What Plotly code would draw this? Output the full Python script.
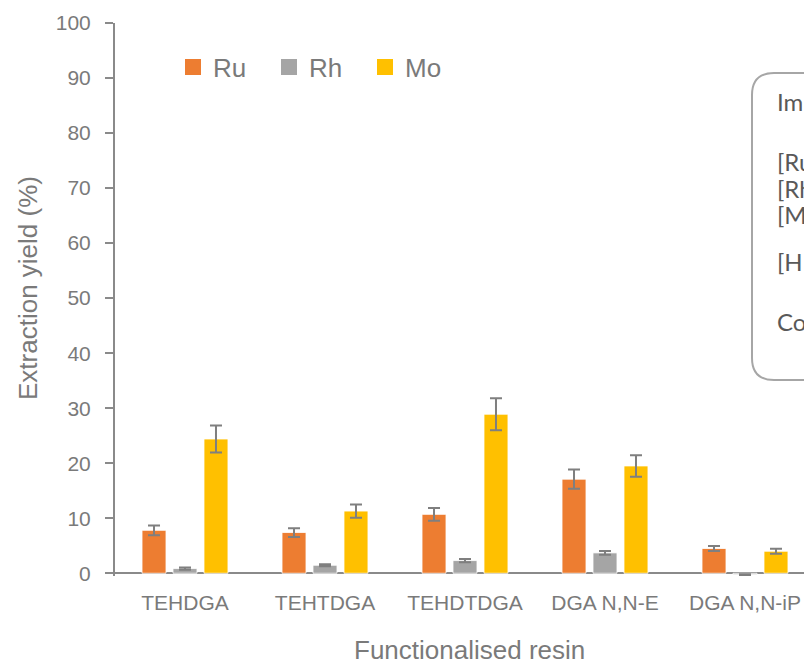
import plotly.graph_objects as go

categories = ["TEHDGA", "TEHTDGA", "TEHDTDGA", "DGA N,N-E", "DGA N,N-iP"]
ru = [7.8, 7.4, 10.7, 17.1, 4.5]
ru_err = [0.9, 0.8, 1.15, 1.75, 0.45]
rh = [0.85, 1.45, 2.3, 3.7, -0.25]
rh_err = [0.2, 0.2, 0.3, 0.36, 0.05]
mo = [24.4, 11.3, 28.9, 19.5, 4.0]
mo_err = [2.45, 1.2, 2.9, 1.95, 0.45]
y_ticks = [0, 10, 20, 30, 40, 50, 60, 70, 80, 90, 100]
box_lines = ["Impurities", "[Ru]", "[Rh]", "[Mo]", "[HNO<sub>3</sub>]", "Contact time"]

AX = "#8a8a8a"
TXT = "#7a7a7a"
FONT = "Liberation Sans, Arial, sans-serif"

fig = go.Figure()
series = [("Ru", ru, ru_err, "#ED7D31"),
          ("Rh", rh, rh_err, "#A5A5A5"),
          ("Mo", mo, mo_err, "#FFC000")]
for name, vals, errs, col in series:
    fig.add_trace(go.Bar(
        name=name, x=categories, y=vals, legendgroup=name, showlegend=False,
        marker=dict(color=col, line=dict(color="rgba(255,255,255,0.8)", width=1)),
        error_y=dict(type="data", array=errs, visible=True, color="#7f7f7f",
                     thickness=2, width=6),
    ))
for name, vals, errs, col in series:
    fig.add_trace(go.Scatter(
        name=name, x=[None], y=[None], mode="markers", legendgroup=name,
        marker=dict(symbol="square", size=16, color=col), showlegend=True,
    ))

OFF = 8  # page body margin
W, H = 804, 660
L, R, T, B = 107, 0, 15, 92
pw = W - L - R
ph = H - T - B

def px_x(p):
    return (p - OFF - L) / pw

def px_y(p):
    return (H - B - (p - OFF)) / ph

fig.update_layout(
    width=W, height=H,
    margin=dict(l=L, r=R, t=T, b=B),
    paper_bgcolor="white", plot_bgcolor="white",
    barmode="group", bargap=0.336, bargroupgap=0.226,
    font=dict(family=FONT, color=TXT, size=21),
    showlegend=True,
    legend=dict(orientation="h", x=px_x(173), y=px_y(67), xanchor="left", yanchor="middle",
                font=dict(size=26, color=TXT), bgcolor="rgba(0,0,0,0)",
                entrywidth=51, entrywidthmode="pixels"),
    xaxis=dict(range=[-0.5, -0.5 + pw / 140.0], showline=False, showgrid=False,
               zeroline=False, ticks="", tickfont=dict(size=21, color=TXT),
               ticklabelstandoff=12),
    yaxis=dict(range=[-0.5, 100], tickmode="array", tickvals=y_ticks,
               showline=True, linecolor=AX, linewidth=2,
               ticks="outside", ticklen=8, tickwidth=2, tickcolor=AX,
               showgrid=False, zeroline=True, zerolinecolor=AX, zerolinewidth=2,
               tickfont=dict(size=21, color=TXT), ticklabelstandoff=10),
    yaxis2=dict(range=[-0.5, 100], overlaying="y", side="left", anchor="x",
                tickmode="array", tickvals=y_ticks, ticks="inside", ticklen=8,
                tickwidth=2, tickcolor=AX, showticklabels=False, showgrid=False,
                zeroline=False, showline=False),
)

# axis titles
fig.add_annotation(text="Extraction yield (%)", xref="paper", yref="paper",
                   x=px_x(28), y=px_y(288), xanchor="center", yanchor="middle",
                   textangle=-90, showarrow=False, font=dict(size=26, color=TXT))
fig.add_annotation(text="Functionalised resin", xref="paper", yref="paper",
                   x=px_x(469), y=px_y(650), xanchor="center", yanchor="middle",
                   showarrow=False, font=dict(size=26, color=TXT))

# rounded info box (cropped at right edge)
x0, x1 = px_x(752), px_x(1000)
y0, y1 = px_y(380), px_y(73)
rx, ry = 22 / pw, 22 / ph
path = (f"M {x0+rx},{y1} L {x1-rx},{y1} Q {x1},{y1} {x1},{y1-ry} "
        f"L {x1},{y0+ry} Q {x1},{y0} {x1-rx},{y0} L {x0+rx},{y0} "
        f"Q {x0},{y0} {x0},{y0+ry} L {x0},{y1-ry} Q {x0},{y1} {x0+rx},{y1} Z")
fig.add_shape(type="path", path=path, xref="paper", yref="paper",
              line=dict(color="#a6a6a6", width=2), fillcolor="white", layer="above")
line_y = [101, 161, 188, 215, 263, 322]
for txt, yy in zip(box_lines, line_y):
    fig.add_annotation(text=txt, xref="paper", yref="paper", x=px_x(775), y=px_y(yy),
                       xanchor="left", yanchor="middle", showarrow=False,
                       font=dict(family="Lato, Carlito, sans-serif", size=24, color="#595959"))

fig.write_html("out.html")
